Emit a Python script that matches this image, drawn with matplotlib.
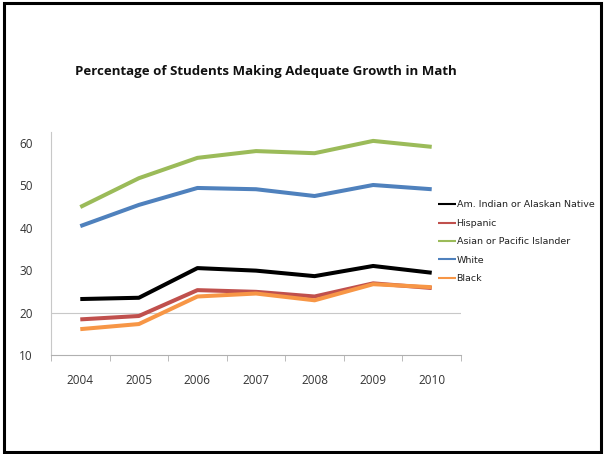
import numpy as np
import matplotlib
matplotlib.use('Agg')
import matplotlib.pyplot as plt
from matplotlib.patches import Rectangle

years = ['2004', '2005', '2006', '2007', '2008', '2009', '2010']
amind = [23.2, 23.5, 30.5, 29.9, 28.6, 31.0, 29.4]
hispanic = [18.4, 19.2, 25.3, 24.9, 23.8, 26.9, 25.8]
asian = [44.9, 51.7, 56.5, 58.1, 57.6, 60.5, 59.1]
white = [40.4, 45.4, 49.4, 49.1, 47.5, 50.1, 49.1]
black = [16.1, 17.3, 23.8, 24.5, 22.9, 26.7, 26.0]

labels = ['Am. Indian or Alaskan Native', 'Hispanic', 'Asian or Pacific Islander', 'White', 'Black']
colors = ['#000000', '#C0504D', '#9BBB59', '#4F81BD', '#F79646']
series = [amind, hispanic, asian, white, black]

fig = plt.figure(figsize=(6.05, 4.54), dpi=100)
ax = fig.add_axes([51/605., 1-355/454., 410/605., 223/454.])

x = np.arange(len(years))
for s, c, l in zip(series, colors, labels):
    ax.plot(x, s, color=c, lw=2.9, label=l, solid_capstyle='butt', zorder=3)

ax.axhline(20, color='#c8c8c8', lw=0.8, zorder=1)
ax.set_xlim(-0.5, len(years)-0.5)
ax.set_ylim(10, 62.6)
ax.set_yticks([10, 20, 30, 40, 50, 60])
ax.set_xticks(x)
ax.set_xticklabels(years)
ax.set_xticks(np.arange(len(years)+1)-0.5, minor=True)
ax.tick_params(axis='x', which='major', length=0, pad=14, labelsize=8.5, labelcolor='#333333')
ax.tick_params(axis='x', which='minor', length=4, color='#b0b0b0', direction='out')
ax.tick_params(axis='y', length=0, pad=13, labelsize=8.5, labelcolor='#333333')
for lab in ax.get_xticklabels() + ax.get_yticklabels():
    lab.set_fontfamily('Open Sans')
for sp in ['top', 'right']:
    ax.spines[sp].set_visible(False)
ax.spines['left'].set_color('#c8c8c8')
ax.spines['bottom'].set_color('#b0b0b0')

leg = ax.legend(loc='upper left', bbox_to_anchor=(0.935, 0.71), frameon=False,
                prop={'family': 'DejaVu Sans', 'size': 6.8}, handlelength=1.9,
                handletextpad=0.05, labelspacing=1.0, borderaxespad=0)
for h in leg.get_lines():
    h.set_linewidth(1.5)
for t in leg.get_texts():
    t.set_color('#222222')

fig.text(266/605., 1-72/454., 'Percentage of Students Making Adequate Growth in Math',
         ha='center', va='center', fontsize=9.5, fontweight='bold', family='Open Sans', color='#111111')

fig.patches.append(Rectangle((4/605., 2/454.), 597/605., 449/454., transform=fig.transFigure,
                             fill=False, edgecolor='black', lw=2.2))

fig.savefig('out.png', dpi=100)
